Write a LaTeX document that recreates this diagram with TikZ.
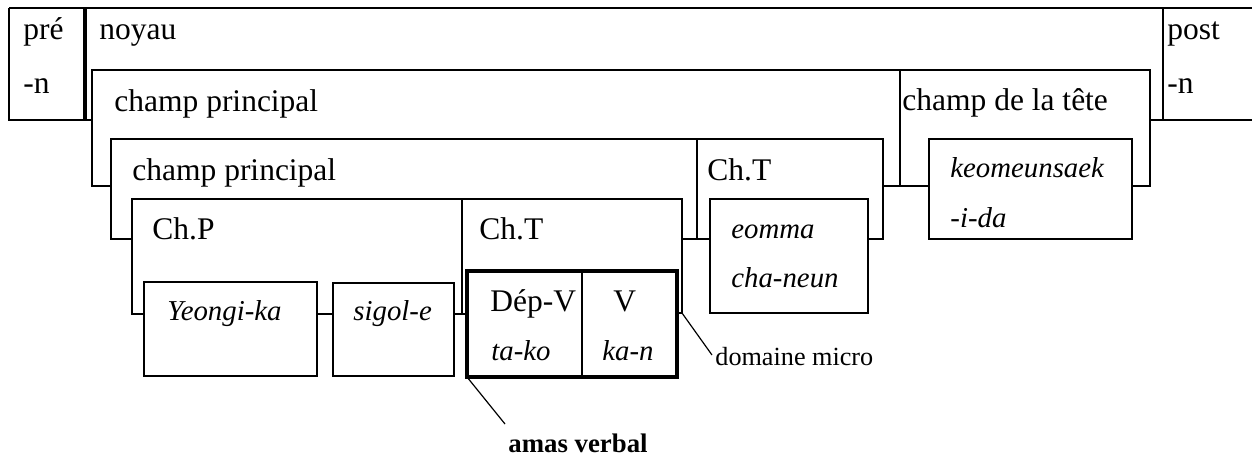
\documentclass[tikz,border=0pt]{standalone}
\usepackage{fontspec}
\setmainfont{Liberation Serif}
\begin{document}
\begin{tikzpicture}[x=0.5pt,y=-0.5pt,
  ln/.style={line width=0.6pt},
  thk/.style={line width=1.6pt},
  dvd/.style={line width=0.75pt},
  rmx/.style={anchor=base west, inner sep=0pt, font=\fontsize{15.75}{18}\selectfont},
  itx/.style={anchor=base west, inner sep=0pt, font=\fontsize{14.4}{17}\selectfont\itshape},
  smx/.style={anchor=base west, inner sep=0pt, font=\fontsize{13.1}{15}\selectfont},
  bfx/.style={anchor=base west, inner sep=0pt, font=\fontsize{13.4}{15}\selectfont\bfseries}]
\useasboundingbox (0,0) rectangle (1252,462);
% outer row
\draw[ln] (9,8) -- (1252,8);
\draw[ln] (9,8) -- (9,120) -- (92,120);
\draw[ln] (84,8) -- (84,120);
\draw[ln] (86,8) -- (86,120);
\draw[ln] (1163,8) -- (1163,120);
\draw[ln] (1150,120) -- (1252,120);
% level 1
\draw[ln] (111,186) -- (92,186) -- (92,70) -- (1150,70) -- (1150,186) -- (1132,186);
\draw[ln] (900,70) -- (900,186);
\draw[ln] (883,186) -- (929,186);
% level 2
\draw[ln] (132,239) -- (111,239) -- (111,139) -- (883,139) -- (883,239) -- (868,239);
\draw[ln] (697,139) -- (697,239);
\draw[ln] (682,239) -- (710,239);
% level 3
\draw[ln] (144,314) -- (132,314) -- (132,199) -- (682,199) -- (682,313) -- (677,313);
\draw[ln] (462,199) -- (462,314);
\draw[ln] (454,314) -- (467,314);
\draw[ln] (317,314) -- (333,314);
% leaf boxes
\draw[ln] (144,282) rectangle (317,376);
\draw[ln] (333,283) rectangle (454,376);
\draw[ln] (710,199) rectangle (868,313);
\draw[ln] (929,139) rectangle (1132,239);
\draw[thk] (467,271) rectangle (677,377);
\draw[dvd] (582,271) -- (582,377);
% texts
\node[rmx] (pre) at (23,39.5) {pré};
\node[rmx] (pren) at (23,93) {-n};
\node[rmx] (noy) at (99,39.5) {noyau};
\node[rmx] (post) at (1167,39.5) {post};
\node[rmx] (postn) at (1167,93) {-n};
\node[rmx] (cp1) at (114,111) {champ principal};
\node[rmx] (cdt) at (902,110) {champ de la tête};
\node[rmx] (cp2) at (132,180) {champ principal};
\node[rmx] (cht2) at (707,180) {Ch.T};
\node[rmx] (chp) at (152,239.5) {Ch.P};
\node[rmx] (cht3) at (479,239.5) {Ch.T};
\node[itx] (eom) at (731,238) {eomma};
\node[itx] (chn) at (731,287) {cha-neun};
\node[itx] (keo) at (950,177) {keomeunsaek};
\node[itx] (ida) at (950,227) {-i-da};
\node[itx] (yeo) at (167,320.5) {Yeongi-ka};
\node[itx] (sig) at (353,320.5) {sigol-e};
\node[rmx] (depv) at (490,311) {Dép-V};
\node[itx] (tako) at (491,360) {ta-ko};
\node[rmx] (vv) at (613,311) {V};
\node[itx] (kan) at (602,360) {ka-n};
\node[smx] (dm) at (715,365) {domaine micro};
\node[bfx] (amas) at (508,452) {amas verbal};
% leader lines
\coordinate (dmstart) at (682,313);
\coordinate (dmend) at (712,355);
\coordinate (avstart) at (467,377);
\coordinate (avend) at (505,424);
\draw[ln] (dmstart) -- (dmend);
\draw[ln] (avstart) -- (avend);
\end{tikzpicture}
\end{document}
